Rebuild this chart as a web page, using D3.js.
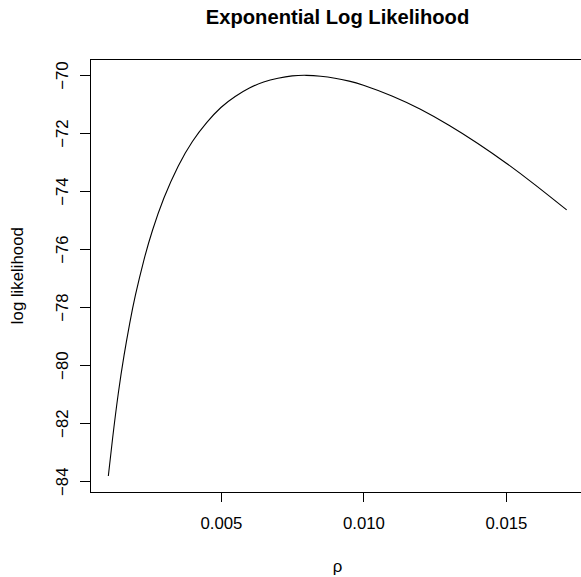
<!DOCTYPE html>
<html>
<head>
<meta charset="utf-8">
<script src="https://cdn.jsdelivr.net/npm/d3@7/dist/d3.min.js"></script>
<style>
  html, body { margin: 0; padding: 0; background: #fff; }
  svg { display: block; }
  text { font-family: "Liberation Sans", Arial, Helvetica, sans-serif; fill: #000; }
</style>
</head>
<body>
<svg id="chart" width="581" height="577"></svg>
<script>
// ---- data ----
const rho = [0.00105, 0.0012, 0.0014, 0.0016, 0.0018, 0.002, 0.0023, 0.0026, 0.003, 0.0035,
             0.004, 0.0045, 0.005, 0.0055, 0.006, 0.0065, 0.007, 0.0075, 0.008, 0.0085,
             0.009, 0.0095, 0.010, 0.011, 0.012, 0.013, 0.014, 0.015, 0.016, 0.01713];
const logLik = [-83.82, -82.52, -80.97, -79.67, -78.56, -77.59, -76.37, -75.35, -74.24, -73.14,
                -72.29, -71.64, -71.12, -70.74, -70.45, -70.24, -70.11, -70.03, -70.01, -70.04,
                -70.11, -70.21, -70.35, -70.72, -71.18, -71.73, -72.35, -73.03, -73.77, -74.65];
const xTicks = [0.005, 0.010, 0.015];
const xTickLabels = ["0.005", "0.010", "0.015"];
const yTicks = [-84, -82, -80, -78, -76, -74, -72, -70];
const yTickLabels = ["\u221284", "\u221282", "\u221280", "\u221278", "\u221276", "\u221274", "\u221272", "\u221270"];
const title = "Exponential Log Likelihood";
const xLabel = "\u03c1";
const yLabel = "log likelihood";

// ---- layout ----
const box = { left: 90, right: 585, top: 59.3, bottom: 492 };
const svg = d3.select("#chart");

function padded(arr) {
  const [lo, hi] = d3.extent(arr);
  const r = hi - lo;
  return [lo - 0.04 * r, hi + 0.04 * r];
}

const x = d3.scaleLinear().domain(padded(rho)).range([box.left, box.right]);
const y = d3.scaleLinear().domain(padded(logLik)).range([box.bottom, box.top]);

// plot box
svg.append("rect")
  .attr("x", box.left).attr("y", box.top)
  .attr("width", box.right - box.left).attr("height", box.bottom - box.top)
  .attr("fill", "none").attr("stroke", "#000").attr("stroke-width", 1)
  .attr("shape-rendering", "crispEdges");

// x axis
const xAxis = d3.axisBottom(x).tickValues(xTicks).tickSize(10)
  .tickFormat((d, i) => xTickLabels[i]);
const gx = svg.append("g").attr("transform", `translate(0,${box.bottom})`).call(xAxis);
gx.select(".domain").remove();
gx.selectAll(".tick line").attr("stroke", "#000").attr("shape-rendering", "crispEdges");
gx.selectAll(".tick text")
  .attr("y", 37.3).attr("dy", 0)
  .style("font-size", "16.8px").style("font-family", '"Liberation Sans", Arial, sans-serif')
  .attr("fill", "#000");
gx.append("line")
  .attr("x1", x(xTicks[0])).attr("x2", x(xTicks[xTicks.length - 1]))
  .attr("y1", 0).attr("y2", 0).attr("stroke", "#000").attr("shape-rendering", "crispEdges");

// y axis
const yAxis = d3.axisLeft(y).tickValues(yTicks).tickSize(10)
  .tickFormat((d, i) => yTickLabels[i]);
const gy = svg.append("g").attr("transform", `translate(${box.left},0)`).call(yAxis);
gy.select(".domain").remove();
gy.selectAll(".tick line").attr("stroke", "#000").attr("shape-rendering", "crispEdges");
gy.selectAll(".tick text")
  .attr("x", 0).attr("y", 0).attr("dy", 0).attr("dx", 0)
  .attr("text-anchor", "middle")
  .attr("transform", "translate(-22,0) rotate(-90)")
  .style("font-size", "16.8px").style("font-family", '"Liberation Sans", Arial, sans-serif')
  .attr("fill", "#000");
gy.append("line")
  .attr("x1", 0).attr("x2", 0)
  .attr("y1", y(yTicks[0])).attr("y2", y(yTicks[yTicks.length - 1]))
  .attr("stroke", "#000").attr("shape-rendering", "crispEdges");

// curve
const line = d3.line()
  .x((d, i) => x(rho[i]))
  .y((d, i) => y(logLik[i]))
  .curve(d3.curveNatural);
svg.append("path")
  .datum(rho)
  .attr("d", line)
  .attr("fill", "none").attr("stroke", "#000").attr("stroke-width", 1.1);

// titles
const cx = (box.left + box.right) / 2;
svg.append("text")
  .attr("x", cx).attr("y", 24)
  .attr("text-anchor", "middle")
  .style("font-size", "20.2px").style("font-weight", "bold")
  .text(title);
svg.append("text")
  .attr("x", cx).attr("y", 571.5)
  .attr("text-anchor", "middle")
  .style("font-size", "16.8px")
  .text(xLabel);
const cy = (box.top + box.bottom) / 2;
svg.append("text")
  .attr("transform", `translate(23,${cy}) rotate(-90)`)
  .attr("text-anchor", "middle")
  .style("font-size", "16.8px")
  .text(yLabel);
</script>
</body>
</html>
